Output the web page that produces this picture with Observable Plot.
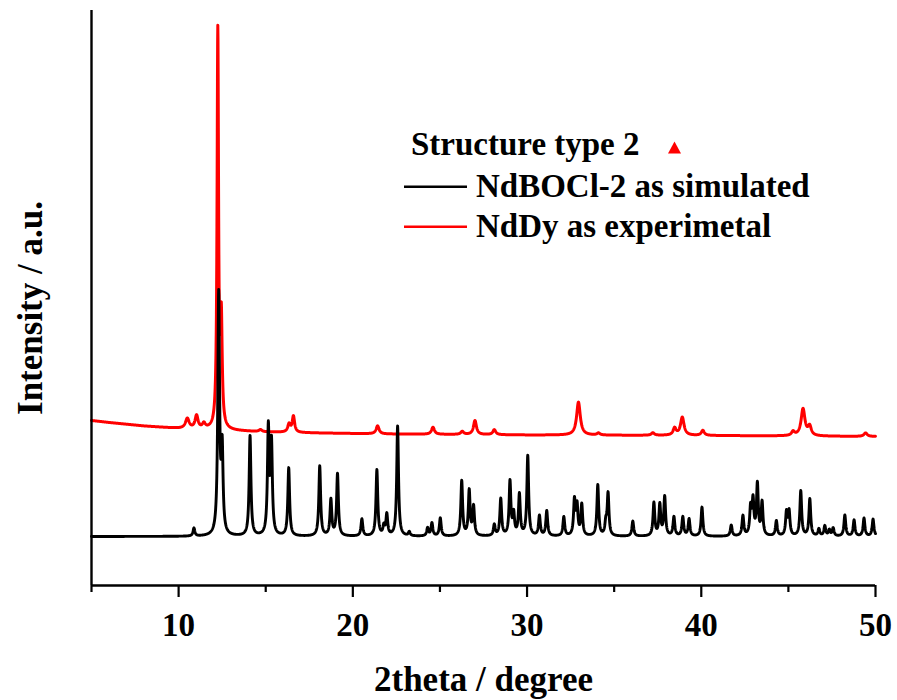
<!DOCTYPE html>
<html>
<head>
<meta charset="utf-8">
<script src="https://cdn.jsdelivr.net/npm/d3@7"></script>
<script src="https://cdn.jsdelivr.net/npm/@observablehq/plot@0.6"></script>
<style>
  html, body { margin: 0; padding: 0; background: #fff; }
  #chart svg { display: block; }
</style>
</head>
<body>
<div id="chart"></div>
<script>
// Simulated pattern (NdBOCl-2): reflection positions (2θ, degrees) and relative intensities
const simPos = [10.88, 12.30, 12.50, 14.10, 15.15, 15.33, 16.32, 18.10, 18.74, 19.12,
  20.52, 21.38, 21.78, 21.95, 22.57, 23.24, 24.29, 24.54, 25.02, 26.25,
  26.68, 26.93, 28.12, 28.49, 29.02, 29.23, 29.56, 30.04, 30.71, 31.13,
  32.11, 32.72, 32.87, 33.14, 34.06, 34.52, 34.65, 36.07, 37.28, 37.62,
  37.90, 38.43, 38.94, 39.30, 40.04, 41.72, 42.39, 42.83, 42.97, 43.22,
  43.49, 44.31, 44.89, 45.04, 45.71, 46.23, 46.75, 47.09, 47.35, 47.57,
  48.24, 48.77, 49.34, 49.86];
const simInt = [8, 240, 82, 100, 106, 90, 68, 70, 36, 62,
  17, 66, 9, 21, 110, 4, 8, 13, 18, 55,
  45, 29, 11, 37, 54, 21, 41, 80, 20, 25,
  19, 35, 29, 31, 51, 12, 42, 15, 33, 31,
  39, 19, 19, 17, 29, 11, 20, 27, 34, 51,
  33, 15, 23, 24, 45, 37, 7, 10, 6, 8,
  21, 16, 18, 17];

// Experimental pattern (NdDy): reflection positions, intensities and widths
const expPos = [10.50, 11.03, 11.45, 12.25, 12.45, 14.70, 16.34, 16.59, 21.42, 24.60,
  26.28, 27.01, 28.12, 32.95, 34.10, 37.22, 38.47, 38.91, 40.09, 45.27,
  45.84, 46.22, 49.43];
const expInt = [10, 13, 5, 396, 105, 2, 8, 16, 8, 7,
  3, 14, 5, 33, 2, 2.5, 7, 18, 5, 4,
  27, 9, 3.5];
const expFwhm = [0.25, 0.2, 0.2, 0.1, 0.12, 0.2, 0.18, 0.16, 0.2, 0.2,
  0.2, 0.2, 0.2, 0.25, 0.2, 0.2, 0.2, 0.24, 0.2, 0.2,
  0.26, 0.22, 0.22];
// Experimental background level
const expBgPos = [5, 6, 8, 10, 12, 15, 18, 22, 30, 40, 50];
const expBgLevel = [165, 163, 159.5, 157, 155.5, 153.5, 152.5, 151.5, 150.5, 150, 149];

// Vertical offset of the simulated trace
const simOffset = 49;
const simFwhm = 0.12;

// Axis ticks
const majorTicks = [10, 20, 30, 40, 50];
const minorTicks = [5, 15, 25, 35, 45];

// Lorentzian line profile summed over the reflections
function lorentzSum(t, pos, inten, fwhm) {
  let s = 0;
  for (let i = 0; i < pos.length; i++) {
    const g = (Array.isArray(fwhm) ? fwhm[i] : fwhm) / 2;
    const d = t - pos[i];
    s += inten[i] * g * g / (d * d + g * g);
  }
  return s;
}
const bgAt = d3.scaleLinear().domain(expBgPos).range(expBgLevel);

const grid = d3.range(5, 50.0001, 0.01);
const simRows = grid.map(t => ({t, v: simOffset + lorentzSum(t, simPos, simInt, simFwhm)}));
const expRows = grid.map(t => ({t, v: bgAt(t) + lorentzSum(t, expPos, expInt, expFwhm)}));

const font = "'Liberation Serif', 'Times New Roman', Times, serif";

const chart = Plot.plot({
  width: 897,
  height: 700,
  marginLeft: 91,
  marginRight: 22,
  marginTop: 10,
  marginBottom: 115,
  x: {domain: [5, 50]},
  y: {domain: [0, 575], axis: null},
  style: {fontFamily: font, fontWeight: "bold", background: "#fff", color: "#000"},
  marks: [
    Plot.line(expRows, {x: "t", y: "v", stroke: "#ff0000", strokeWidth: 3, curve: "linear"}),
    Plot.line(simRows, {x: "t", y: "v", stroke: "#000", strokeWidth: 2.9, curve: "linear"}),
    Plot.ruleX([5], {stroke: "#000", strokeWidth: 2.4}),
    Plot.ruleY([0], {stroke: "#000", strokeWidth: 2.4}),
    Plot.axisX(majorTicks, {tickSize: 12, tickPadding: 15, strokeWidth: 2.2, fontSize: 33, fontWeight: "bold", label: null}),
    Plot.axisX(minorTicks, {tickSize: 7, strokeWidth: 2.2, tickFormat: () => "", label: null}),
    Plot.text(["2theta / degree"], {frameAnchor: "bottom", dy: 105, lineAnchor: "bottom", textAnchor: "middle", fontSize: 35, fontWeight: "bold"}),
    Plot.text(["Intensity / a.u."], {frameAnchor: "left", rotate: -90, dx: -61, dy: 10, textAnchor: "middle", lineAnchor: "middle", fontSize: 35, fontWeight: "bold"})
  ]
});

// Legend inside the plot area
const legend = d3.select(chart).append("g")
  .attr("font-family", font)
  .attr("font-weight", "bold")
  .attr("font-size", 33)
  .attr("text-anchor", "start")
  .attr("fill", "#000");
legend.append("text").attr("x", 411).attr("y", 155).text("Structure type 2");
legend.append("path").attr("d", "M674.5,141.5L681,153.5L668,153.5Z").attr("fill", "#ff0000");
const entries = [
  {label: "NdBOCl-2 as simulated", color: "#000", y: 186.7},
  {label: "NdDy as experimetal", color: "#ff0000", y: 226.7}
];
for (const e of entries) {
  legend.append("line").attr("x1", 404).attr("x2", 467).attr("y1", e.y).attr("y2", e.y)
    .attr("stroke", e.color).attr("stroke-width", 2.6);
  legend.append("text").attr("x", 476).attr("y", e.y + 10.3).text(e.label);
}

document.getElementById("chart").appendChild(chart);
</script>
</body>
</html>
